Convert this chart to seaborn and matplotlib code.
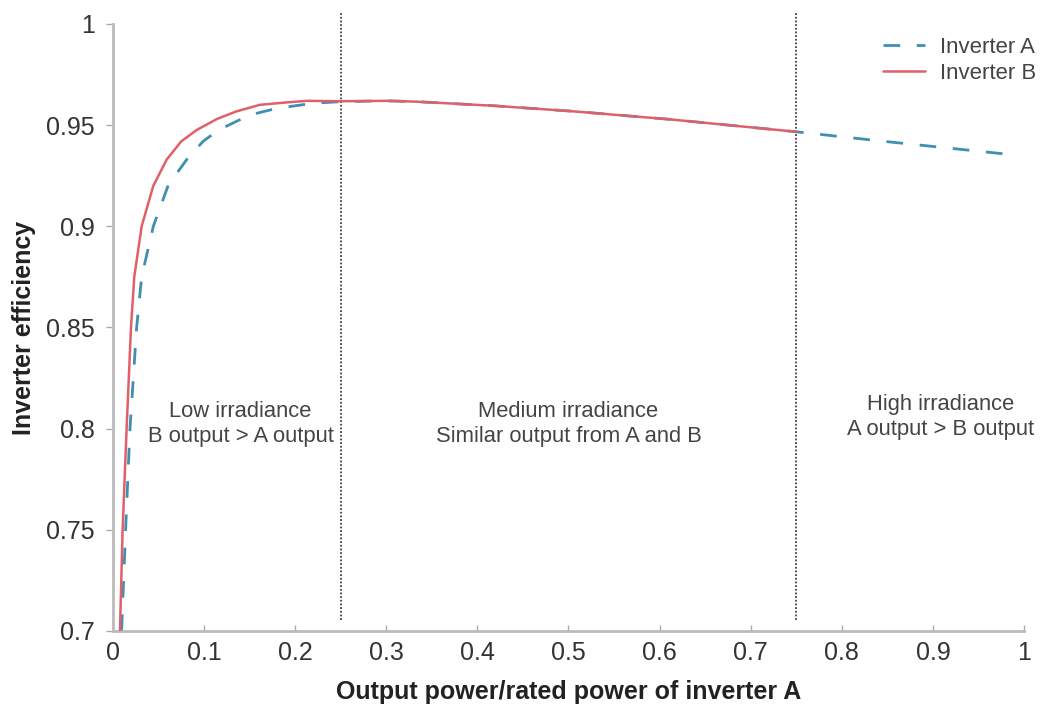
import matplotlib
matplotlib.use("Agg")
import matplotlib.pyplot as plt
import seaborn as sns
import pandas as pd

# Data
x_a = [0.0095, 0.0139, 0.0187, 0.026, 0.0315, 0.0443, 0.0607, 0.081, 0.099, 0.116, 0.15, 0.18,
       0.22, 0.25, 0.30, 0.333, 0.42, 0.50, 0.61, 0.75, 0.85, 0.98]
eff_a = [0.700, 0.750, 0.800, 0.850, 0.875, 0.900, 0.9203, 0.933, 0.942, 0.9476, 0.955, 0.9583,
         0.9608, 0.9616, 0.9620, 0.9616, 0.9595, 0.957, 0.9529, 0.9467, 0.9418, 0.9357]
x_b = [0.0077, 0.0106, 0.015, 0.0198, 0.0234, 0.0315, 0.0443, 0.059, 0.075, 0.092, 0.114,
       0.135, 0.161, 0.19, 0.213, 0.25, 0.30, 0.333, 0.42, 0.50, 0.61, 0.75]
eff_b = [0.700, 0.750, 0.800, 0.850, 0.875, 0.900, 0.920, 0.933, 0.942, 0.9476, 0.953,
         0.9567, 0.960, 0.9612, 0.962, 0.9618, 0.9620, 0.9616, 0.9595, 0.957, 0.9529, 0.9467]
boundaries = [0.25, 0.75]
region_labels = ["Low irradiance\nB output > A output",
                 "Medium irradiance\nSimilar output from A and B",
                 "High irradiance\nA output > B output"]
region_x = [0.14, 0.50, 0.908]
region_y = [0.8025, 0.8025, 0.806]
xticks = [0, 0.1, 0.2, 0.3, 0.4, 0.5, 0.6, 0.7, 0.8, 0.9, 1]
xticklabels = ["0", "0.1", "0.2", "0.3", "0.4", "0.5", "0.6", "0.7", "0.8", "0.9", "1"]
yticks = [0.7, 0.75, 0.8, 0.85, 0.9, 0.95, 1]
yticklabels = ["0.7", "0.75", "0.8", "0.85", "0.9", "0.95", "1"]

sns.set_style("white")
plt.rcParams['font.family'] = ['Liberation Sans', 'DejaVu Sans']

fig = plt.figure(figsize=(10.41, 7.04), dpi=100)
ax = fig.add_axes([0.1085, 0.1037, 0.8752, 0.8623])

df_a = pd.DataFrame({"x": x_a, "y": eff_a})
df_b = pd.DataFrame({"x": x_b, "y": eff_b})

col_a = "#3f8fb3"
col_b = "#e0606a"

for xb in boundaries:
    ax.plot([xb, xb], [0.7055, 1.006], color="#222222", linestyle=(0, (1.2, 1.2)),
            linewidth=1.1, zorder=1, clip_on=False)

sns.lineplot(data=df_a, x="x", y="y", ax=ax, color=col_a, linewidth=2.0,
             label="Inverter A", sort=False, zorder=2)
ax.lines[-1].set_dashes((6, 6))
sns.lineplot(data=df_b, x="x", y="y", ax=ax, color=col_b, linewidth=1.8,
             label="Inverter B", sort=False, zorder=3)

for t, xx, yy in zip(region_labels, region_x, region_y):
    ax.text(xx, yy, t, ha="center", va="center", fontsize=15.8, color="#444444",
            linespacing=1.25)

ax.set_xlim(0, 1)
ax.set_ylim(0.7, 1)
ax.set_xticks(xticks)
ax.set_xticklabels(xticklabels)
ax.set_yticks(yticks)
ax.set_yticklabels(yticklabels)
ax.tick_params(axis="y", direction="out", length=5, width=1, color="#aaaaaa",
               labelsize=18, labelcolor="#333333", pad=8, left=True)
ax.tick_params(axis="x", direction="in", length=4, width=1, color="#aaaaaa",
               labelsize=18, labelcolor="#333333", pad=7, bottom=True)

for s in ["top", "right"]:
    ax.spines[s].set_visible(False)
for s in ["left", "bottom"]:
    ax.spines[s].set_color("#bbbbbb")
    ax.spines[s].set_linewidth(2.0)

ax.set_xlabel("Output power/rated power of inverter A", fontsize=18,
              fontweight="bold", color="#222222", labelpad=11)
ax.set_ylabel("Inverter efficiency", fontsize=18, fontweight="bold",
              color="#222222", labelpad=7)

leg = ax.legend(loc="upper right", bbox_to_anchor=(0.995, 0.948),
                bbox_transform=fig.transFigure, frameon=False,
                fontsize=15.9, handlelength=1.9, handletextpad=0.65, labelspacing=0.24,
                borderpad=0, borderaxespad=0, labelcolor="#444444")

fig.savefig("out.png", dpi=100)
